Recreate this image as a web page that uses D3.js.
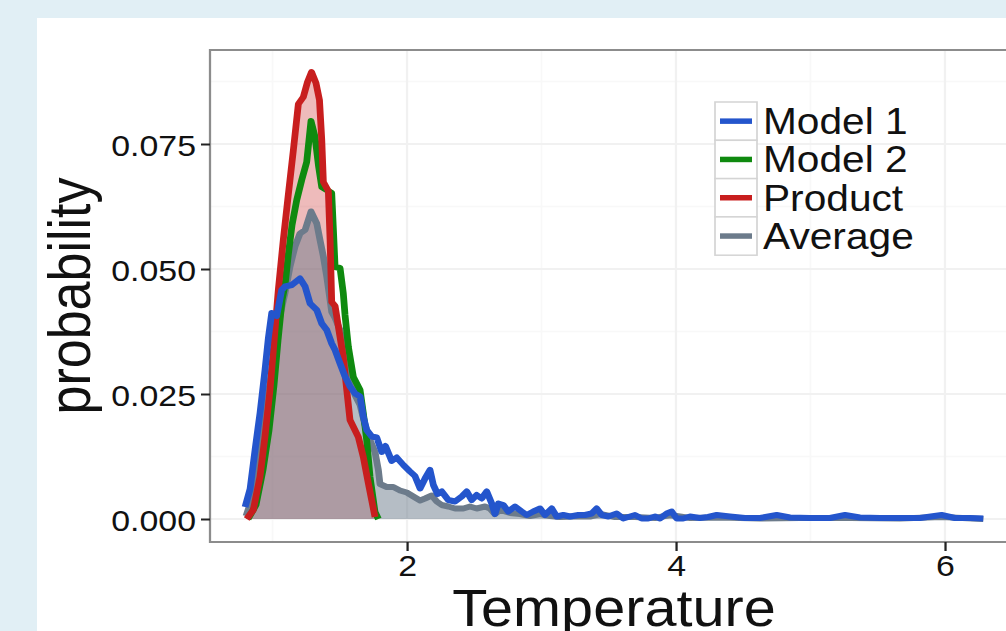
<!DOCTYPE html>
<html>
<head>
<meta charset="utf-8">
<script src="https://cdn.jsdelivr.net/npm/d3@7"></script>
<style>
  body { margin: 0; background: #e1eff5; }
  svg { display: block; }
  text { font-family: "Liberation Sans", Arial, sans-serif; fill: #111; }
</style>
</head>
<body>
<div id="main"></div>
<script>
// values: [temperature, probability]
const model1 = [
  [0.796, 0.0024], [0.833, 0.0060], [0.870, 0.0138], [0.907, 0.0212], [0.944, 0.0298],
  [0.969, 0.0362], [0.994, 0.0412], [1.031, 0.0406], [1.068, 0.0458], [1.093, 0.0465],
  [1.143, 0.0468], [1.204, 0.0481], [1.242, 0.0465], [1.279, 0.0431], [1.329, 0.0418],
  [1.366, 0.0391], [1.403, 0.0378], [1.440, 0.0351], [1.465, 0.0338], [1.502, 0.0311],
  [1.539, 0.0285], [1.576, 0.0265], [1.613, 0.0251], [1.651, 0.0245], [1.675, 0.0205],
  [1.700, 0.0178], [1.738, 0.0165], [1.775, 0.0163], [1.812, 0.0134], [1.840, 0.0146],
  [1.886, 0.0116], [1.923, 0.0123], [1.973, 0.0108], [2.022, 0.0095], [2.059, 0.0086],
  [2.097, 0.0061], [2.134, 0.0081], [2.171, 0.0098], [2.196, 0.0068], [2.227, 0.0050],
  [2.258, 0.0055], [2.307, 0.0038], [2.357, 0.0035], [2.407, 0.0045], [2.444, 0.0055],
  [2.481, 0.0038], [2.518, 0.0048], [2.555, 0.0041], [2.593, 0.0055], [2.630, 0.0031],
  [2.654, 0.0010], [2.679, 0.0031], [2.716, 0.0028], [2.753, 0.0015], [2.803, 0.0025],
  [2.853, 0.0015], [2.890, 0.0008], [2.939, 0.0015], [2.989, 0.0021], [3.026, 0.0008],
  [3.076, 0.0021], [3.113, 0.0005], [3.162, 0.0008], [3.212, 0.0005], [3.274, 0.0008],
  [3.323, 0.0008], [3.373, 0.0011], [3.410, 0.0021], [3.448, 0.0008], [3.497, 0.0005],
  [3.559, 0.0011], [3.608, 0.0001], [3.658, 0.0005], [3.695, 0.0008], [3.745, 0.0001],
  [3.794, 0.0001], [3.844, 0.0005], [3.881, 0.0001], [3.931, 0.0011], [3.968, 0.0015],
  [4.005, 0.0001], [4.054, 0.0001], [4.104, 0.0005], [4.178, 0.0002], [4.238, 0.0004],
  [4.303, 0.0008], [4.401, 0.0005], [4.513, 0.0002], [4.625, 0.0002], [4.749, 0.0008],
  [4.848, 0.0003], [4.996, 0.0002], [5.145, 0.0002], [5.257, 0.0008], [5.368, 0.0003],
  [5.517, 0.0002], [5.665, 0.0002], [5.814, 0.0002], [5.975, 0.0008], [6.074, 0.0002],
  [6.186, 0.0002], [6.285, 0.0001]
];

const model2 = [
  [0.818, 0.0000], [0.877, 0.0028], [0.929, 0.0098], [0.974, 0.0178], [1.011, 0.0268],
  [1.041, 0.0358], [1.071, 0.0438], [1.093, 0.0468], [1.117, 0.0528], [1.145, 0.0588],
  [1.180, 0.0638], [1.217, 0.0678], [1.254, 0.0714], [1.286, 0.0796], [1.316, 0.0764],
  [1.341, 0.0708], [1.366, 0.0664], [1.403, 0.0658], [1.440, 0.0652], [1.452, 0.0582],
  [1.465, 0.0504], [1.502, 0.0502], [1.526, 0.0452], [1.539, 0.0408], [1.564, 0.0344],
  [1.601, 0.0284], [1.651, 0.0258], [1.675, 0.0212], [1.700, 0.0158], [1.725, 0.0084],
  [1.762, 0.0014], [1.787, 0.0000]
];

const product = [
  [0.808, 0.0000], [0.857, 0.0018], [0.907, 0.0085], [0.944, 0.0165], [0.981, 0.0258],
  [1.006, 0.0338], [1.043, 0.0458], [1.080, 0.0558], [1.117, 0.0648], [1.155, 0.0738],
  [1.192, 0.0830], [1.229, 0.0844], [1.260, 0.0874], [1.290, 0.0894], [1.323, 0.0872],
  [1.349, 0.0838], [1.366, 0.0758], [1.378, 0.0674], [1.415, 0.0656], [1.428, 0.0558],
  [1.440, 0.0434], [1.465, 0.0426], [1.526, 0.0324], [1.552, 0.0258], [1.576, 0.0198],
  [1.638, 0.0164], [1.675, 0.0124], [1.712, 0.0072], [1.762, 0.0004]
];

const average = [
  [0.803, 0.0006], [0.848, 0.0042], [0.892, 0.0108], [0.937, 0.0188], [0.981, 0.0274],
  [1.019, 0.0348], [1.056, 0.0408], [1.093, 0.0452], [1.130, 0.0505], [1.167, 0.0545],
  [1.204, 0.0571], [1.242, 0.0578], [1.286, 0.0615], [1.329, 0.0591], [1.353, 0.0558],
  [1.378, 0.0525], [1.403, 0.0485], [1.428, 0.0438], [1.440, 0.0414], [1.465, 0.0402],
  [1.502, 0.0378], [1.539, 0.0328], [1.576, 0.0282], [1.613, 0.0248], [1.651, 0.0228],
  [1.688, 0.0188], [1.725, 0.0158], [1.762, 0.0134], [1.787, 0.0098], [1.799, 0.0070],
  [1.849, 0.0064], [1.898, 0.0064], [1.948, 0.0057], [1.998, 0.0053], [2.047, 0.0045],
  [2.097, 0.0037], [2.134, 0.0041], [2.184, 0.0047], [2.221, 0.0035], [2.258, 0.0028],
  [2.307, 0.0025], [2.357, 0.0021], [2.419, 0.0021], [2.468, 0.0025], [2.518, 0.0021],
  [2.580, 0.0025], [2.617, 0.0021], [2.654, 0.0010], [2.691, 0.0018], [2.766, 0.0012],
  [2.840, 0.0010], [2.914, 0.0006], [2.989, 0.0010], [3.063, 0.0006], [3.137, 0.0004],
  [3.249, 0.0005], [3.361, 0.0005], [3.435, 0.0010], [3.546, 0.0004], [3.695, 0.0004],
  [3.844, 0.0002], [3.955, 0.0008], [4.104, 0.0002], [4.327, 0.0003], [4.625, 0.0001],
  [4.922, 0.0002], [5.294, 0.0002], [5.665, 0.0001], [5.975, 0.0004], [6.285, 0.0000]
];

const legendLabels = ['Model 1', 'Model 2', 'Product', 'Average'];
const xTicks = [2, 4, 6];
const yTicks = [0, 0.025, 0.05, 0.075];
const xMinor = [1, 3, 5];
const yMinor = [0.0125, 0.0375, 0.0625, 0.0875];

const colors = {
  'Model 1': '#2455cc',
  'Model 2': '#0f8a0f',
  'Product': '#c81e1e',
  'Average': '#6c7b8b'
};

// the picture is stretched sideways, so everything is drawn squeezed and scaled back
const S = 1.13;
const W = 1006, H = 631;

const svg = d3.select('#main').append('svg')
  .attr('width', W)
  .attr('height', H);

svg.append('rect').attr('width', W).attr('height', H).attr('fill', '#e1eff5');
svg.append('rect').attr('x', 37).attr('y', 18).attr('width', W).attr('height', H).attr('fill', '#fff');

const g = svg.append('g').attr('transform', 'scale(' + S + ',1)');

const panel = { left: 210 / S, right: 1020 / S, top: 50, bottom: 542 };

const x = d3.scaleLinear().domain([0.535, 6.558]).range([panel.left, panel.right]);
const y = d3.scaleLinear().domain([-0.0046, 0.0938]).range([panel.bottom, panel.top]);

g.append('clipPath').attr('id', 'panel-clip')
  .append('rect')
  .attr('x', panel.left).attr('y', panel.top)
  .attr('width', panel.right - panel.left).attr('height', panel.bottom - panel.top);

// grid
const grid = g.append('g');
grid.selectAll('.xminor').data(xMinor).enter().append('line')
  .attr('x1', d => x(d)).attr('x2', d => x(d))
  .attr('y1', panel.top).attr('y2', panel.bottom)
  .attr('stroke', '#f8f8f8').attr('stroke-width', 1.5);
grid.selectAll('.yminor').data(yMinor).enter().append('line')
  .attr('x1', panel.left).attr('x2', panel.right)
  .attr('y1', d => y(d)).attr('y2', d => y(d))
  .attr('stroke', '#f8f8f8').attr('stroke-width', 1.5);
grid.selectAll('.xmajor').data(xTicks).enter().append('line')
  .attr('x1', d => x(d)).attr('x2', d => x(d))
  .attr('y1', panel.top).attr('y2', panel.bottom)
  .attr('stroke', '#f1f1f1').attr('stroke-width', 2);
grid.selectAll('.ymajor').data(yTicks).enter().append('line')
  .attr('x1', panel.left).attr('x2', panel.right)
  .attr('y1', d => y(d)).attr('y2', d => y(d))
  .attr('stroke', '#f1f1f1').attr('stroke-width', 2);

const plot = g.append('g').attr('clip-path', 'url(#panel-clip)');

const area = d3.area().x(d => x(d[0])).y0(y(0)).y1(d => y(d[1]));
const line = d3.line().x(d => x(d[0])).y(d => y(d[1]));

plot.append('path').datum(product).attr('d', area)
  .attr('fill', colors['Product']).attr('fill-opacity', 0.3);
plot.append('path').datum(average).attr('d', area)
  .attr('fill', colors['Average']).attr('fill-opacity', 0.5);

const lineOrder = [
  [average, 'Average'],
  [model2, 'Model 2'],
  [product, 'Product'],
  [model1, 'Model 1']
];
lineOrder.forEach(([data, name]) => {
  plot.append('path').datum(data).attr('d', line)
    .attr('fill', 'none')
    .attr('stroke', colors[name])
    .attr('stroke-width', 6)
    .attr('stroke-linejoin', 'round')
    .attr('stroke-linecap', 'butt');
});

// panel border
g.append('rect')
  .attr('x', panel.left).attr('y', panel.top)
  .attr('width', panel.right - panel.left).attr('height', panel.bottom - panel.top)
  .attr('fill', 'none').attr('stroke', '#8c8c8c').attr('stroke-width', 2);

// axes
const xAxis = g.append('g')
  .attr('transform', 'translate(0,' + panel.bottom + ')')
  .call(d3.axisBottom(x).tickValues(xTicks).tickSize(9).tickPadding(3).tickFormat(d3.format('d')));
const yAxis = g.append('g')
  .attr('transform', 'translate(' + panel.left + ',0)')
  .call(d3.axisLeft(y).tickValues(yTicks).tickSize(9 / S).tickPadding(5 / S).tickFormat(d3.format('.3f')));

[xAxis, yAxis].forEach(a => {
  a.attr('font-family', null).attr('font-size', null);
  a.select('.domain').remove();
  a.selectAll('.tick line').attr('stroke', '#222').attr('stroke-width', 2);
  a.selectAll('.tick text')
    .style('font-size', '30px')
    .attr('fill', '#111');
});
xAxis.selectAll('.tick text').attr('dy', '0.72em');
yAxis.selectAll('.tick text').attr('dy', '0.38em');

// axis titles
g.append('text')
  .attr('x', 614 / S)
  .attr('y', 626)
  .attr('text-anchor', 'middle')
  .style('font-size', '51px')
  .text('Temperature');

g.append('text')
  .attr('transform', 'translate(' + (90 / S) + ',' + ((panel.top + panel.bottom) / 2) + ') rotate(-90)')
  .attr('text-anchor', 'middle')
  .style('font-size', '52px')
  .text('probability');

// legend
const legend = g.append('g');
const keyH = 38.3, keyTop = 102, keyLeft = 715 / S, keyW = 42 / S;
const items = legend.selectAll('.item').data(legendLabels).enter().append('g')
  .attr('transform', (d, i) => 'translate(0,' + (keyTop + i * keyH) + ')');
items.append('rect')
  .attr('x', keyLeft).attr('y', 0)
  .attr('width', keyW).attr('height', keyH)
  .attr('fill', '#fff').attr('stroke', '#d4d4d4').attr('stroke-width', 1.5);
items.append('line')
  .attr('x1', 720 / S).attr('x2', 752 / S)
  .attr('y1', keyH / 2).attr('y2', keyH / 2)
  .attr('stroke', d => colors[d]).attr('stroke-width', 5.5);
items.append('text')
  .attr('x', 763 / S)
  .attr('y', keyH / 2 + 13)
  .style('font-size', '36px')
  .text(d => d);
</script>
</body>
</html>
